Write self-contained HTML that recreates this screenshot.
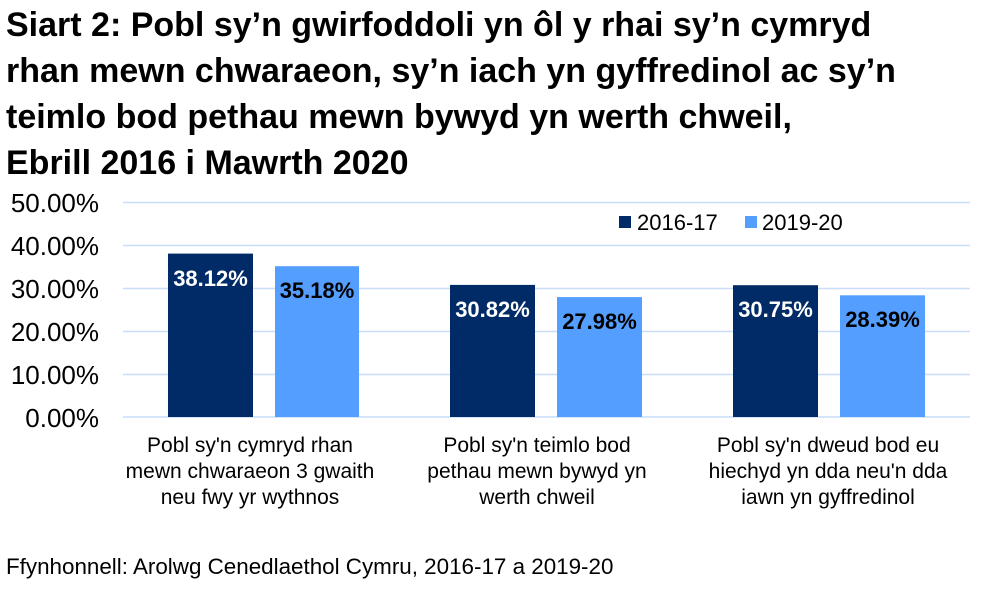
<!DOCTYPE html>
<html><head><meta charset="utf-8"><style>
body{margin:0;background:#fff;width:986px;height:587px;overflow:hidden;font-family:"Liberation Sans",Arial,sans-serif;}
</style></head><body>
<svg width="986" height="587" xmlns="http://www.w3.org/2000/svg" font-family="Liberation Sans, Arial, sans-serif">
<g font-size="34" font-weight="bold" fill="#000">
<text x="6" y="36">Siart 2: Pobl sy’n gwirfoddoli yn ôl y rhai sy’n cymryd</text>
<text x="6" y="82">rhan mewn chwaraeon, sy’n iach yn gyffredinol ac sy’n</text>
<text x="6" y="128">teimlo bod pethau mewn bywyd yn werth chweil,</text>
<text x="6" y="174">Ebrill 2016 i Mawrth 2020</text>
</g>
<g stroke="#C9DDF9" stroke-width="1.5">
<line x1="123" x2="970" y1="202.5" y2="202.5"/>
<line x1="123" x2="970" y1="245.5" y2="245.5"/>
<line x1="123" x2="970" y1="288.5" y2="288.5"/>
<line x1="123" x2="970" y1="331.5" y2="331.5"/>
<line x1="123" x2="970" y1="374.5" y2="374.5"/>
<line x1="123" x2="970" y1="417" y2="417"/>
</g>
<g font-size="26" fill="#000" text-anchor="end">
<text x="99" y="212">50.00%</text>
<text x="99" y="255">40.00%</text>
<text x="99" y="298">30.00%</text>
<text x="99" y="341">20.00%</text>
<text x="99" y="384">10.00%</text>
<text x="99" y="427">0.00%</text>
</g>
<g fill="#002B66">
<rect x="168" y="253.6" width="85" height="163.4"/>
<rect x="450" y="284.9" width="85" height="132.1"/>
<rect x="733" y="285.2" width="85" height="131.8"/>
</g>
<g fill="#549EFF">
<rect x="275" y="266.2" width="84" height="150.8"/>
<rect x="557" y="297.1" width="85" height="119.9"/>
<rect x="840" y="295.3" width="85" height="121.7"/>
</g>
<g font-size="22" font-weight="bold" text-anchor="middle">
<text x="210.5" y="286" fill="#fff">38.12%</text>
<text x="317" y="298" fill="#000">35.18%</text>
<text x="492.5" y="317" fill="#fff">30.82%</text>
<text x="599.5" y="329" fill="#000">27.98%</text>
<text x="775.5" y="317" fill="#fff">30.75%</text>
<text x="882.5" y="327" fill="#000">28.39%</text>
</g>
<rect x="619" y="216" width="12" height="12" fill="#002B66"/>
<text x="637" y="230" font-size="22">2016-17</text>
<rect x="745" y="216" width="12" height="12" fill="#549EFF"/>
<text x="762" y="230" font-size="22">2019-20</text>
<g font-size="21" text-anchor="middle" fill="#000">
<text x="250" y="452">Pobl sy'n cymryd rhan</text>
<text x="250" y="478">mewn chwaraeon 3 gwaith</text>
<text x="250" y="504">neu fwy yr wythnos</text>
<text x="537" y="452">Pobl sy'n teimlo bod</text>
<text x="537" y="478">pethau mewn bywyd yn</text>
<text x="537" y="504">werth chweil</text>
<text x="828" y="452">Pobl sy'n dweud bod eu</text>
<text x="828" y="478">hiechyd yn dda neu'n dda</text>
<text x="828" y="504">iawn yn gyffredinol</text>
</g>
<text x="6" y="574" font-size="22.4">Ffynhonnell: Arolwg Cenedlaethol Cymru, 2016-17 a 2019-20</text>
</svg>
</body></html>
